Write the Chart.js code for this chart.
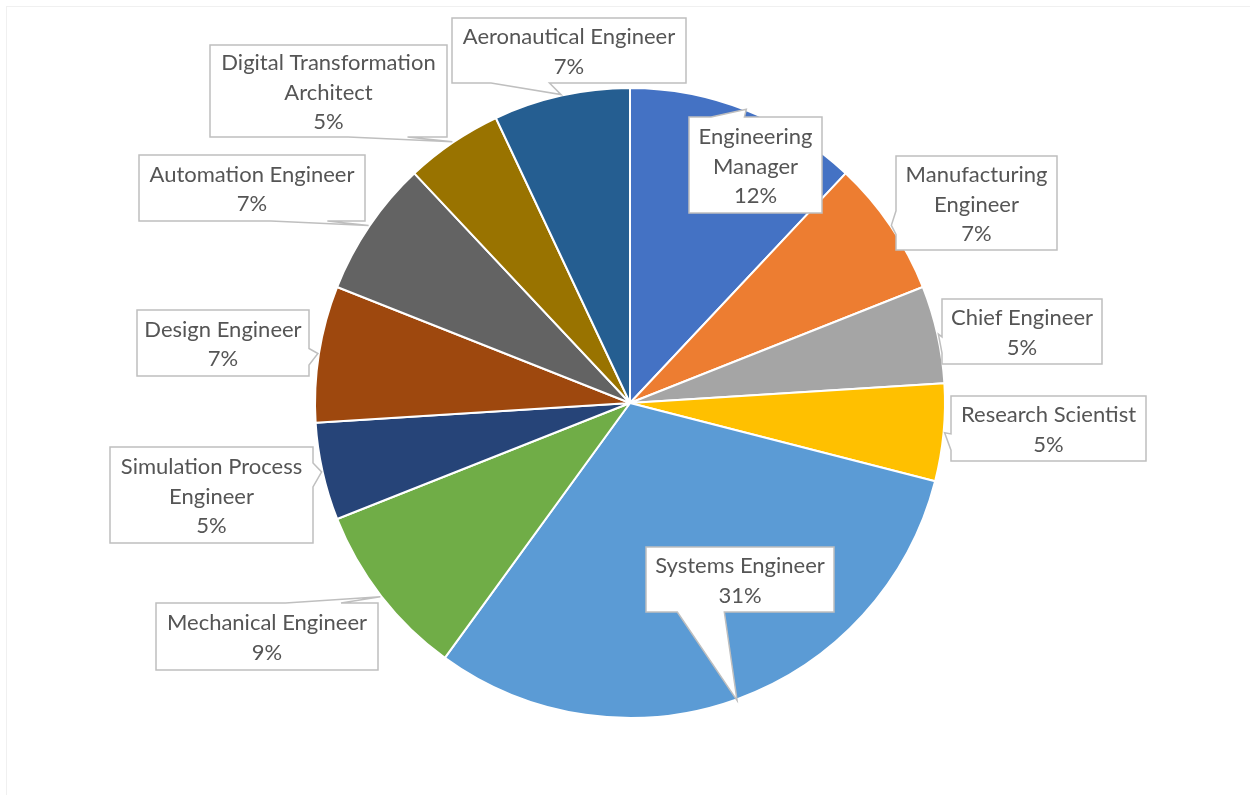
<!DOCTYPE html>
<html>
<head>
<meta charset="utf-8">
<script src="https://cdn.jsdelivr.net/npm/chart.js@4.4.1/dist/chart.umd.min.js"></script>
<style>
  html, body { margin: 0; padding: 0; background: #ffffff; }
  #frame { position: relative; width: 1250px; height: 795px; }
</style>
</head>
<body>
<div id="frame">
  <canvas id="rolesChart" width="1250" height="795"></canvas>
</div>
<script>
// job roles, clockwise from 12 o'clock
const roles = [
  'Engineering Manager', 'Manufacturing Engineer', 'Chief Engineer', 'Research Scientist',
  'Systems Engineer', 'Mechanical Engineer', 'Simulation Process Engineer', 'Design Engineer',
  'Automation Engineer', 'Digital Transformation Architect', 'Aeronautical Engineer'
];
const shares = [12, 7, 5, 5, 31, 9, 5, 7, 7, 5, 7];
const sliceColors = [
  '#4472C4', '#ED7D31', '#A5A5A5', '#FFC000', '#5B9BD5', '#70AD47',
  '#264478', '#9E480E', '#636363', '#997300', '#255E91'
];

// callout boxes: left, top, width, height (one per role)
const calloutBoxes = [
  [689, 117, 133, 96],
  [896, 156, 161, 94],
  [942, 299, 160, 65],
  [951, 396, 195, 65],
  [646, 547, 188, 65],
  [156, 603, 222, 67],
  [110, 447, 203, 96],
  [137, 310, 172, 66],
  [139, 155, 226, 66],
  [210, 45, 237, 92],
  [452, 18, 234, 65]
];

const LABEL_FONT = '22px Lato, "Open Sans", sans-serif';
const LINE_H = 29.5;

function wrapText(ctx, text, maxWidth) {
  const words = text.split(' ');
  const lines = [];
  let cur = '';
  words.forEach(w => {
    const test = cur ? cur + ' ' + w : w;
    if (cur && ctx.measureText(test).width > maxWidth) {
      lines.push(cur);
      cur = w;
    } else {
      cur = test;
    }
  });
  if (cur) lines.push(cur);
  return lines;
}

// rectangle with a wedge pointing at (tx, ty), like an office "wedgeRectCallout"
function calloutPath(ctx, box, tx, ty) {
  const [l, t, w, h] = box;
  const r = l + w, b = t + h;
  const dxPos = tx - (l + w / 2);
  const dyPos = ty - (t + h / 2);
  const dz = Math.abs(dyPos) - Math.abs(dxPos * h / w);
  const x1 = l + w * (dxPos > 0 ? 7 : 2) / 12;
  const x2 = l + w * (dxPos > 0 ? 10 : 5) / 12;
  const y1 = t + h * (dyPos > 0 ? 7 : 2) / 12;
  const y2 = t + h * (dyPos > 0 ? 10 : 5) / 12;

  ctx.beginPath();
  ctx.moveTo(l, t);
  if (dz > 0 && dyPos < 0) { ctx.lineTo(x1, t); ctx.lineTo(tx, ty); ctx.lineTo(x2, t); }
  ctx.lineTo(r, t);
  if (dz <= 0 && dxPos > 0) { ctx.lineTo(r, y1); ctx.lineTo(tx, ty); ctx.lineTo(r, y2); }
  ctx.lineTo(r, b);
  if (dz > 0 && dyPos > 0) { ctx.lineTo(x2, b); ctx.lineTo(tx, ty); ctx.lineTo(x1, b); }
  ctx.lineTo(l, b);
  if (dz <= 0 && dxPos < 0) { ctx.lineTo(l, y2); ctx.lineTo(tx, ty); ctx.lineTo(l, y1); }
  ctx.closePath();
}

const calloutPlugin = {
  id: 'callouts',
  afterDatasetsDraw(chart) {
    const ctx = chart.ctx;
    const meta = chart.getDatasetMeta(0);
    const data = chart.data.datasets[0].data;
    const total = data.reduce((a, v) => a + v, 0);

    ctx.save();
    ctx.font = LABEL_FONT;
    meta.data.forEach((arc, i) => {
      const p = arc.getProps(['x', 'y', 'startAngle', 'endAngle', 'outerRadius'], true);
      const mid = (p.startAngle + p.endAngle) / 2;
      const tx = p.x + Math.cos(mid) * (p.outerRadius + 1);
      const ty = p.y + Math.sin(mid) * (p.outerRadius + 1);
      const box = calloutBoxes[i];

      calloutPath(ctx, box, tx, ty);
      ctx.fillStyle = '#ffffff';
      ctx.fill();
      ctx.lineWidth = 1.5;
      ctx.strokeStyle = '#bfbfbf';
      ctx.stroke();

      const lines = wrapText(ctx, chart.data.labels[i], box[2] - 12);
      lines.push(Math.round(data[i] / total * 100) + '%');
      const cx = box[0] + box[2] / 2;
      const cy = box[1] + box[3] / 2;
      const startY = cy - (lines.length - 1) * LINE_H / 2;
      ctx.fillStyle = '#555555';
      ctx.textAlign = 'center';
      ctx.textBaseline = 'middle';
      lines.forEach((ln, k) => ctx.fillText(ln, cx, startY + k * LINE_H + 1.5));
    });
    ctx.restore();
  }
};

// faint frame of the chart area
const framePlugin = {
  id: 'frame',
  beforeDraw(chart) {
    const ctx = chart.ctx;
    ctx.save();
    ctx.strokeStyle = '#f0f0f0';
    ctx.lineWidth = 1;
    ctx.strokeRect(6.5, 6.5, chart.width + 10, chart.height + 10);
    ctx.restore();
  }
};

new Chart(document.getElementById('rolesChart'), {
  type: 'pie',
  data: {
    labels: roles,
    datasets: [{
      data: shares,
      backgroundColor: sliceColors,
      borderColor: '#ffffff',
      borderWidth: 2,
      hoverOffset: 0,
      offset: 0
    }]
  },
  options: {
    responsive: false,
    animation: false,
    layout: { padding: { top: 87, bottom: 76, left: 314, right: 304 } },
    plugins: {
      legend: { display: false },
      tooltip: { enabled: false }
    }
  },
  plugins: [framePlugin, calloutPlugin]
});
</script>
</body>
</html>
